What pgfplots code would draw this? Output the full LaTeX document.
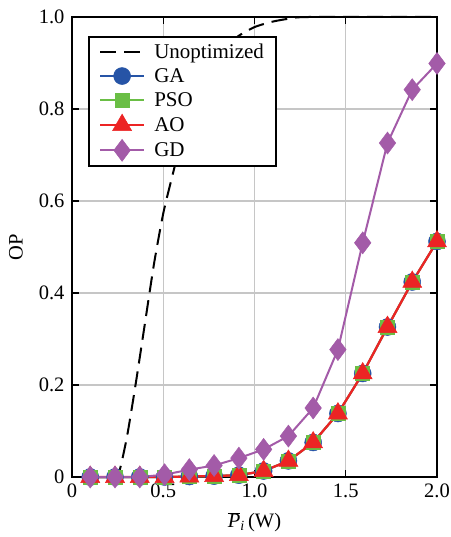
\documentclass[border=0pt]{standalone}
\usepackage{fontspec}
\setmainfont{Liberation Serif}
\usepackage{pgfplots}
\pgfplotsset{compat=1.18}
\definecolor{gaB}{RGB}{38,84,166}
\definecolor{psoG}{RGB}{106,190,69}
\definecolor{aoR}{RGB}{236,36,36}
\definecolor{gdP}{RGB}{163,91,168}
\pgfplotstableread{
x ga pso ao gd
0.1000 0.000 0.000 0.000 0.000
0.2357 0.000 0.000 0.000 0.000
0.3714 0.000 0.000 0.000 0.000
0.5071 0.000 0.000 0.000 0.005
0.6429 0.001 0.001 0.001 0.016
0.7786 0.002 0.002 0.002 0.025
0.9143 0.004 0.004 0.004 0.041
1.0500 0.013 0.013 0.013 0.060
1.1857 0.035 0.035 0.035 0.089
1.3214 0.075 0.075 0.075 0.150
1.4571 0.138 0.138 0.138 0.277
1.5929 0.225 0.225 0.225 0.509
1.7286 0.326 0.326 0.326 0.726
1.8643 0.424 0.424 0.424 0.842
2.0000 0.512 0.512 0.512 0.899
}\datatab
\pgfplotstableread{
x y
0.10 0.000
0.20 0.000
0.25 0.000
0.30 0.085
0.35 0.205
0.40 0.335
0.45 0.465
0.50 0.573
0.55 0.655
0.60 0.730
0.70 0.840
0.80 0.910
0.90 0.955
1.00 0.978
1.10 0.990
1.20 0.997
1.30 1.000
2.00 1.000
}\unopt
\begin{document}
\begin{tikzpicture}
\begin{axis}[
  name=ax,
  scale only axis,
  width=365pt, height=460pt,
  xmin=0, xmax=2, ymin=0, ymax=1,
  xtick={0,0.5,1.0,1.5,2.0},
  xticklabels={0,0.5,1.0,1.5,2.0},
  ytick={0,0.2,0.4,0.6,0.8,1.0},
  yticklabels={0,0.2,0.4,0.6,0.8,1.0},
  /pgf/number format/assume math mode=true,
  tick align=inside,
  major tick length=7pt,
  tick style={line width=1.2pt, black},
  axis line style={line width=1.3pt},
  grid=major,
  grid style={line width=1.2pt, gray!45},
  ticklabel style={font=\fontsize{20.5}{22}\selectfont},
  xticklabel style={yshift=-3pt},
  yticklabel style={xshift=-4pt},
  xlabel={$\overline{\mbox{\itshape P}}_{\mbox{\fontsize{14}{14}\selectfont\itshape i}}$\,(W)},
  ylabel={OP},
  label style={font=\fontsize{20.5}{22}\selectfont},
  xlabel style={yshift=-8pt},
  ylabel style={at={(axis description cs:-0.125,0.5)}, anchor=south},
  clip=false,
  legend cell align=left,
  legend style={at={(0.044,0.959)}, anchor=north west, draw=black, line width=1.8pt,
    font=\fontsize{21}{24}\selectfont, row sep=4.5pt, column sep=7pt, inner xsep=10pt, inner ysep=5pt},
  legend image code/.code={\draw[mark repeat=2,mark phase=2,#1] plot coordinates {(0pt,0pt) (22pt,0pt) (44pt,0pt)};},
]
\addplot[black, line width=2pt, dash pattern=on 16pt off 8pt, smooth, tension=0.4] table[x=x,y=y]{\unopt};
\addlegendentry{Unoptimized}
\addplot[gaB, line width=2pt, mark=*, mark size=8.5pt, mark options={solid, fill=gaB, draw=gaB, line width=0.5pt}] table[x=x,y=ga]{\datatab};
\addlegendentry{GA}
\addplot[psoG, line width=2pt, mark=square*, mark size=7pt, mark options={solid, fill=psoG, draw=psoG, line width=0.5pt}] table[x=x,y=pso]{\datatab};
\addlegendentry{PSO}
\addplot[aoR, line width=2.3pt, mark=triangle*, mark size=11pt, mark options={solid, fill=aoR, draw=aoR, line width=0.5pt}] table[x=x,y=ao]{\datatab};
\addlegendentry{AO}
\addplot[gdP, line width=2pt, mark=diamond*, mark size=11pt, mark options={solid, fill=gdP, draw=gdP, line width=0.5pt}] table[x=x,y=gd]{\datatab};
\addlegendentry{GD}
\end{axis}
\pgfresetboundingbox
\path ([shift={(-72pt,-60pt)}]ax.south west) rectangle ([shift={(13pt,17pt)}]ax.north east);
\end{tikzpicture}
\end{document}
